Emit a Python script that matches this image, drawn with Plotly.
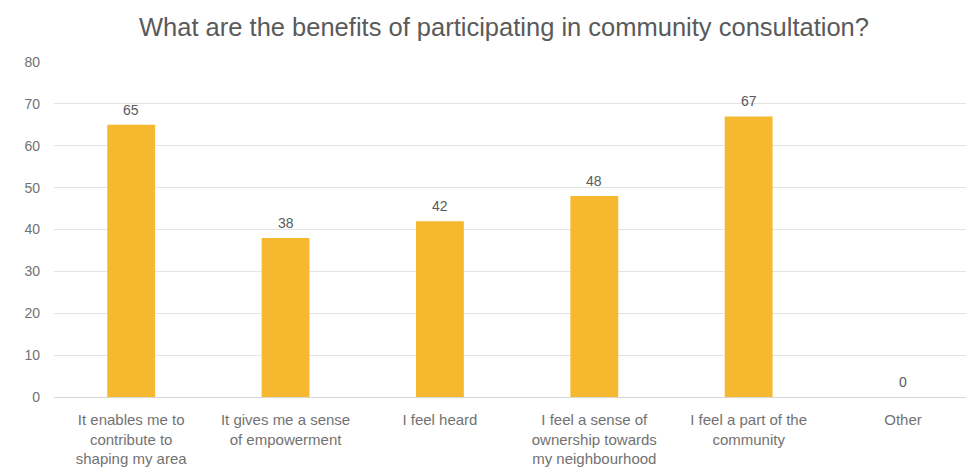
import plotly.graph_objects as go

# Survey responses
categories = [
    "It enables me to<br>contribute to<br>shaping my area",
    "It gives me a sense<br>of empowerment",
    "I feel heard",
    "I feel a sense of<br>ownership towards<br>my neighbourhood",
    "I feel a part of the<br>community",
    "Other",
]
responses = [65, 38, 42, 48, 67, 0]
y_ticks = [0, 10, 20, 30, 40, 50, 60, 70, 80]

FONT = "Liberation Sans, Arial, sans-serif"
BAR_COLOR = "#F5B82E"
TEXT_GRAY = "#5a5a5a"
TICK_GRAY = "#727272"
GRID_GRAY = "#e4e4e4"

idx = list(range(len(categories)))

fig = go.Figure(
    go.Bar(
        x=idx,
        y=responses,
        width=0.31,
        marker=dict(color=BAR_COLOR, line=dict(width=0)),
        hoverinfo="skip",
    )
)

# value labels above each bar
for i, v in zip(idx, responses):
    fig.add_annotation(
        x=i, y=v, text=str(v), showarrow=False,
        yanchor="middle", yshift=15,
        font=dict(family=FONT, size=14, color=TEXT_GRAY),
    )

fig.update_layout(
    width=966,
    height=467,
    margin=dict(l=54, r=0, t=62, b=70),
    paper_bgcolor="white",
    plot_bgcolor="white",
    showlegend=False,
    title=dict(
        text="What are the benefits of participating in community consultation?",
        x=504 / 966, xanchor="center",
        y=1 - 27 / 467, yanchor="middle",
        font=dict(family=FONT, size=25.5, color=TEXT_GRAY),
    ),
    xaxis=dict(
        range=[-0.5, 5.408],
        tickmode="array",
        tickvals=idx,
        ticktext=categories,
        showgrid=False,
        zeroline=False,
        showline=False,
        ticks="outside",
        ticklen=9,
        tickcolor="rgba(0,0,0,0)",
        tickfont=dict(family=FONT, size=15, color=TICK_GRAY),
    ),
    yaxis=dict(
        range=[0, 80],
        tickmode="array",
        tickvals=y_ticks,
        showgrid=True,
        gridcolor=GRID_GRAY,
        gridwidth=1,
        zeroline=True,
        zerolinecolor="#d6d6d6",
        zerolinewidth=1,
        showline=False,
        ticks="",
        ticklabelstandoff=13,
        tickfont=dict(family=FONT, size=14, color=TICK_GRAY),
    ),
)

fig.write_html("out.html")
